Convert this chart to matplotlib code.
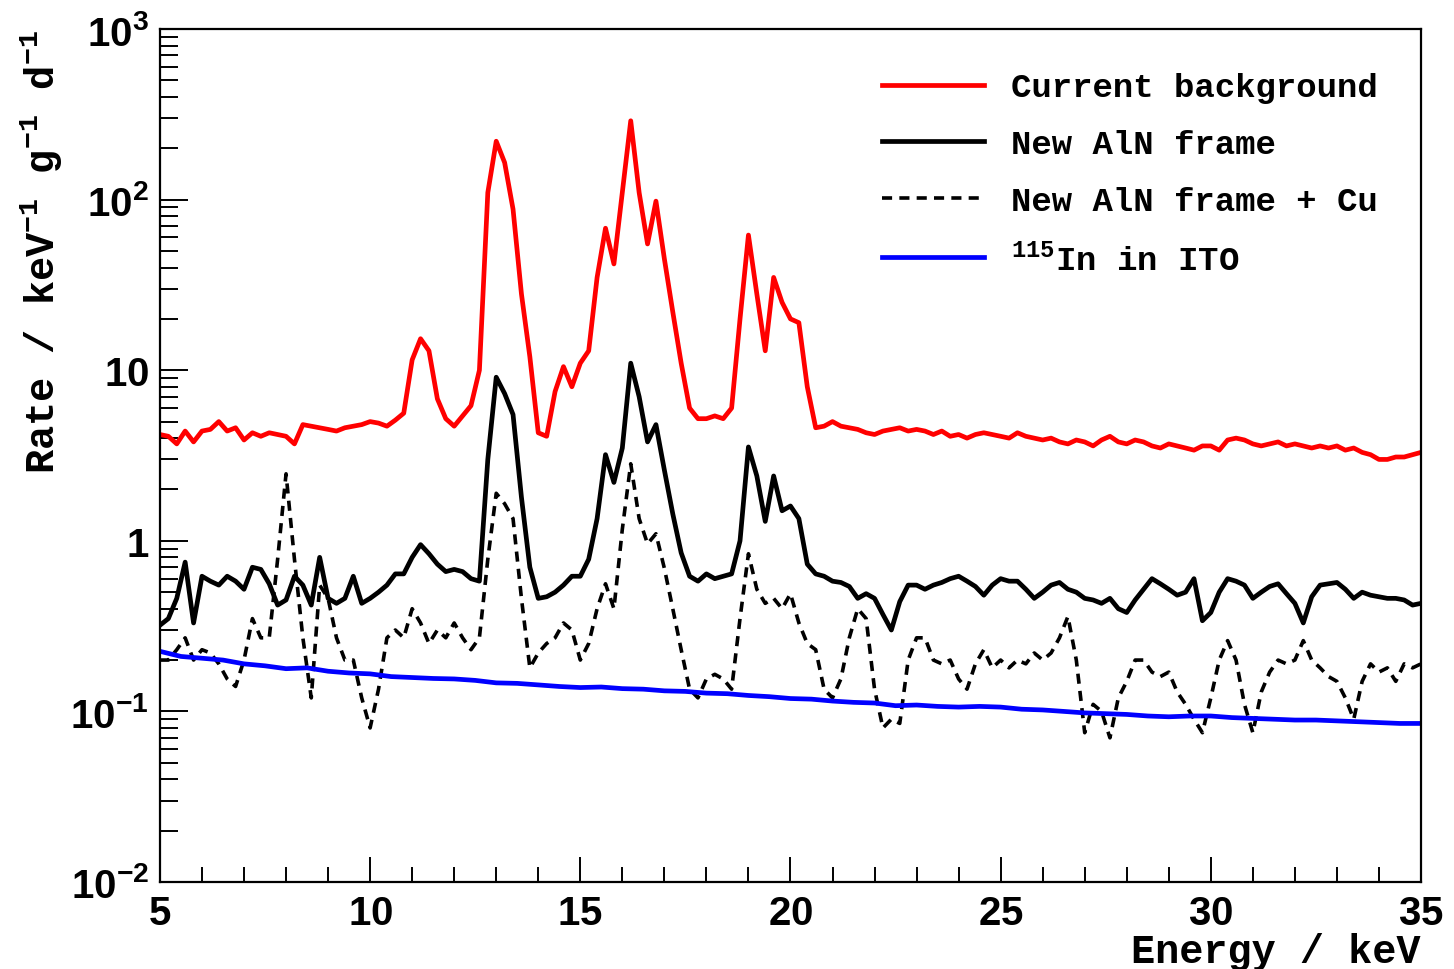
import numpy as np
import matplotlib
matplotlib.use("Agg")
import matplotlib.pyplot as plt
from matplotlib.ticker import FixedLocator, FuncFormatter, MultipleLocator, LogLocator, NullFormatter

plt.rcParams['font.family'] = ['Liberation Mono', 'DejaVu Sans']
plt.rcParams['font.weight'] = 'bold'
plt.rcParams['mathtext.fontset'] = 'custom'
plt.rcParams['mathtext.rm'] = 'Liberation Mono:bold'
plt.rcParams['mathtext.bf'] = 'Liberation Mono:bold'
plt.rcParams['mathtext.sf'] = 'Liberation Sans:bold'

# energy grid for the detector histograms (keV)
energy = np.round(np.arange(5.0, 35.01, 0.2), 2)

current_bg = [
    4.2, 4.1, 3.7, 4.4, 3.8, 4.4, 4.5, 5.0, 4.4, 4.6,
    3.9, 4.3, 4.1, 4.3, 4.2, 4.1, 3.7, 4.8, 4.7, 4.6,
    4.5, 4.4, 4.6, 4.7, 4.8, 5.0, 4.9, 4.7, 5.1, 5.6,
    11.5, 15.3, 13.0, 6.8, 5.2, 4.7, 5.4, 6.2, 10, 110,
    220, 165, 88, 28, 12, 4.3, 4.1, 7.5, 10.5, 8.0,
    11, 13, 35, 68, 42, 110, 290, 110, 55, 98,
    45, 22, 11, 6.0, 5.2, 5.2, 5.4, 5.2, 6.0, 20,
    62, 28, 13, 35, 25, 20, 19, 8.0, 4.6, 4.7,
    5.0, 4.7, 4.6, 4.5, 4.3, 4.2, 4.4, 4.5, 4.6, 4.4,
    4.5, 4.4, 4.2, 4.4, 4.1, 4.2, 4.0, 4.2, 4.3, 4.2,
    4.1, 4.0, 4.3, 4.1, 4.0, 3.9, 4.0, 3.8, 3.7, 3.9,
    3.8, 3.6, 3.9, 4.1, 3.8, 3.7, 3.9, 3.8, 3.6, 3.5,
    3.7, 3.6, 3.5, 3.4, 3.6, 3.6, 3.4, 3.9, 4.0, 3.9,
    3.7, 3.6, 3.7, 3.8, 3.6, 3.7, 3.6, 3.5, 3.6, 3.5,
    3.6, 3.4, 3.5, 3.3, 3.2, 3.0, 3.0, 3.1, 3.1, 3.2,
    3.3,
]

new_aln = [
    0.32, 0.35, 0.46, 0.75, 0.33, 0.62, 0.58, 0.55, 0.62, 0.58,
    0.52, 0.70, 0.68, 0.56, 0.42, 0.45, 0.62, 0.55, 0.42, 0.80,
    0.46, 0.43, 0.46, 0.62, 0.43, 0.46, 0.50, 0.55, 0.64, 0.64,
    0.80, 0.95, 0.84, 0.73, 0.66, 0.68, 0.66, 0.60, 0.58, 3.0,
    9.1, 7.3, 5.5, 1.8, 0.70, 0.46, 0.47, 0.50, 0.55, 0.62,
    0.62, 0.78, 1.35, 3.2, 2.2, 3.5, 11, 7.0, 3.8, 4.8,
    2.6, 1.44, 0.85, 0.62, 0.58, 0.64, 0.60, 0.62, 0.64, 1.0,
    3.55, 2.4, 1.3, 2.4, 1.5, 1.6, 1.35, 0.73, 0.64, 0.62,
    0.58, 0.57, 0.54, 0.46, 0.49, 0.46, 0.37, 0.30, 0.44, 0.55,
    0.55, 0.52, 0.55, 0.57, 0.60, 0.62, 0.58, 0.54, 0.48, 0.55,
    0.60, 0.58, 0.58, 0.52, 0.46, 0.50, 0.55, 0.57, 0.52, 0.50,
    0.46, 0.45, 0.43, 0.46, 0.40, 0.38, 0.45, 0.52, 0.60, 0.56,
    0.52, 0.48, 0.50, 0.60, 0.34, 0.38, 0.50, 0.60, 0.58, 0.55,
    0.46, 0.50, 0.54, 0.56, 0.49, 0.43, 0.33, 0.47, 0.55, 0.56,
    0.57, 0.52, 0.46, 0.50, 0.48, 0.47, 0.46, 0.46, 0.45, 0.42,
    0.43,
]

new_aln_cu = [
    0.20, 0.20, 0.23, 0.27, 0.20, 0.23, 0.22, 0.19, 0.155, 0.14,
    0.20, 0.35, 0.27, 0.27, 0.78, 2.47, 0.78, 0.27, 0.12, 0.55,
    0.46, 0.27, 0.20, 0.20, 0.12, 0.08, 0.135, 0.27, 0.30, 0.27,
    0.40, 0.33, 0.25, 0.30, 0.27, 0.33, 0.27, 0.23, 0.27, 0.78,
    1.9, 1.65, 1.35, 0.46, 0.18, 0.22, 0.25, 0.27, 0.33, 0.30,
    0.20, 0.25, 0.40, 0.56, 0.40, 1.17, 2.83, 1.35, 0.96, 1.1,
    0.69, 0.40, 0.23, 0.135, 0.12, 0.155, 0.165, 0.155, 0.135, 0.35,
    0.84, 0.52, 0.43, 0.46, 0.40, 0.49, 0.33, 0.25, 0.23, 0.135,
    0.12, 0.155, 0.27, 0.40, 0.35, 0.135, 0.08, 0.09, 0.085, 0.20,
    0.27, 0.27, 0.20, 0.19, 0.20, 0.155, 0.135, 0.19, 0.23, 0.18,
    0.20, 0.18, 0.20, 0.19, 0.22, 0.20, 0.22, 0.27, 0.36, 0.20,
    0.075, 0.11, 0.10, 0.07, 0.12, 0.15, 0.20, 0.20, 0.17, 0.16,
    0.17, 0.13, 0.11, 0.09, 0.075, 0.12, 0.20, 0.26, 0.20, 0.11,
    0.075, 0.13, 0.17, 0.20, 0.19, 0.20, 0.26, 0.20, 0.18, 0.16,
    0.15, 0.12, 0.09, 0.15, 0.19, 0.17, 0.18, 0.15, 0.19, 0.18,
    0.19,
]

# 115In in ITO, coarser grid (smooth curve)
energy_in = np.round(np.arange(5.0, 35.01, 0.5), 2)
in_ito = [
    0.225, 0.21, 0.205, 0.20, 0.19, 0.185, 0.178, 0.18, 0.172, 0.168,
    0.166, 0.16, 0.158, 0.156, 0.155, 0.152, 0.147, 0.146, 0.143, 0.14,
    0.138, 0.139, 0.136, 0.135, 0.132, 0.131, 0.128, 0.127, 0.124, 0.122,
    0.119, 0.118, 0.115, 0.113, 0.112, 0.108, 0.109, 0.107, 0.106, 0.107,
    0.106, 0.103, 0.102, 0.10, 0.098, 0.097, 0.096, 0.094, 0.093, 0.094,
    0.094, 0.092, 0.091, 0.09, 0.089, 0.089, 0.088, 0.087, 0.086, 0.085,
    0.085,
]

labels = ["Current background", "New AlN frame", "New AlN frame + Cu", r"$^{115}$In in ITO"]

fig = plt.figure(figsize=(14.54, 9.70), dpi=100)
ax = fig.add_axes([0.110, 0.0897, 0.8673, 0.8793])

ax.plot(energy, current_bg, color="#ff0000", lw=3.4, label=labels[0])
ax.plot(energy, new_aln, color="black", lw=3.4, label=labels[1])
ax.plot(energy, new_aln_cu, color="black", lw=2.6, ls=(0, (2.8, 2.0)), label=labels[2])
ax.plot(energy_in, in_ito, color="#0000ff", lw=3.4, label=labels[3])

ax.set_yscale("log")
ax.set_xlim(5, 35)
ax.set_ylim(1e-2, 1e3)

ax.xaxis.set_major_locator(MultipleLocator(5))
ax.xaxis.set_minor_locator(MultipleLocator(1))
ax.yaxis.set_major_locator(FixedLocator([1e-2, 1e-1, 1, 10, 1e2, 1e3]))
ax.yaxis.set_minor_locator(LogLocator(base=10, subs=np.arange(2, 10), numticks=20))
ax.yaxis.set_minor_formatter(NullFormatter())

ylab = {1e-2: r"$\mathsf{10^{-2}}$", 1e-1: r"$\mathsf{10^{-1}}$", 1: r"$\mathsf{1}$",
        10: r"$\mathsf{10}$", 1e2: r"$\mathsf{10^{2}}$", 1e3: r"$\mathsf{10^{3}}$"}
ax.yaxis.set_major_formatter(FuncFormatter(lambda v, p: ylab.get(v, "")))
ax.xaxis.set_major_formatter(FuncFormatter(lambda v, p: r"$\mathsf{%d}$" % v))

ax.tick_params(which="both", direction="in", top=False, right=False, width=1.4, labelsize=29)
ax.tick_params(axis="y", which="major", length=20, pad=8)
ax.tick_params(axis="y", which="minor", length=13)
ax.tick_params(axis="x", which="major", length=18, pad=9)
ax.tick_params(axis="x", which="minor", length=11)
for s in ax.spines.values():
    s.set_linewidth(1.6)

ax.set_xlabel("Energy / keV", fontsize=29, fontweight="bold", loc="right", labelpad=0)
ax.set_ylabel(r"Rate / keV$^{-1}$ g$^{-1}$ d$^{-1}$", fontsize=29, fontweight="bold", loc="top", labelpad=4)

leg = ax.legend(loc="upper right", bbox_to_anchor=(0.99, 0.985), frameon=False,
                handlelength=3.0, labelspacing=0.75, handletextpad=0.8,
                prop={"family": "Liberation Mono", "weight": "bold", "size": 24.5})
for line in leg.get_lines():
    line.set_linewidth(3.4)
leg.get_lines()[2].set_linewidth(2.6)

fig.savefig("out.png", dpi=100)
